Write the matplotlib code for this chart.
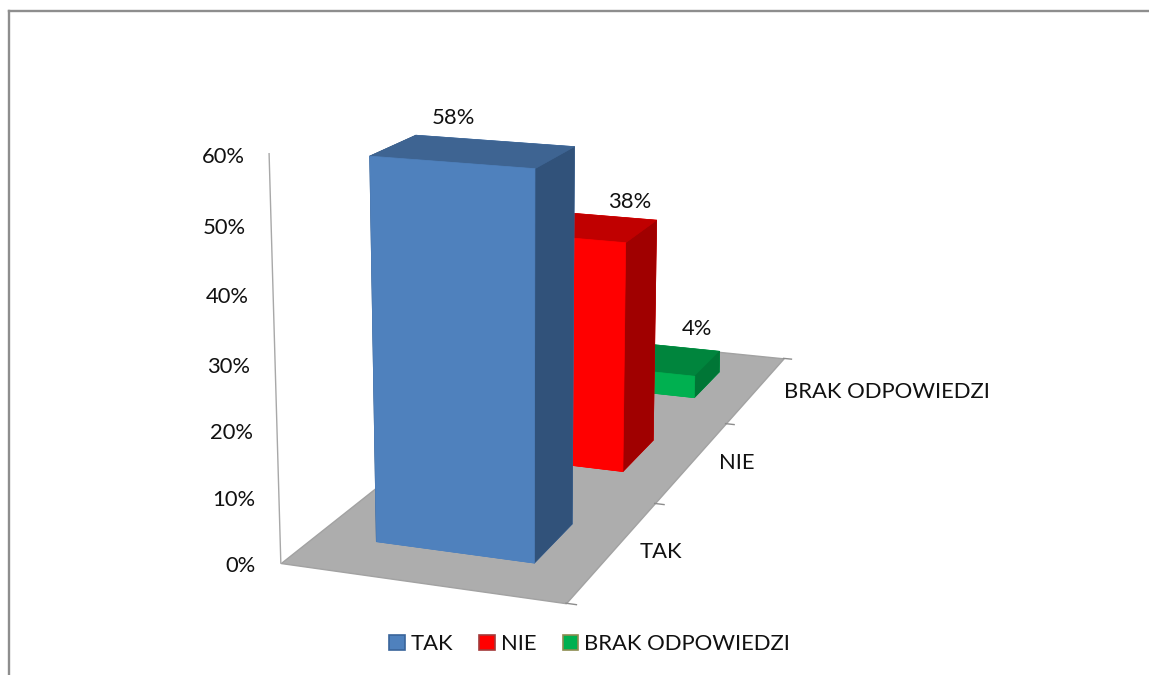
import numpy as np
import matplotlib
matplotlib.use('Agg')
import matplotlib.pyplot as plt
from matplotlib.lines import Line2D
from matplotlib.patches import Patch
from mpl_toolkits.mplot3d.art3d import Poly3DCollection

W = 1149
H = 675
plt.rcParams['font.family'] = ['Lato', 'DejaVu Sans']

categories = ['TAK', 'NIE', 'BRAK ODPOWIEDZI']
values = [58, 38, 4]
value_labels = ['58%', '38%', '4%']
z_tick_labels = ['0%', '10%', '20%', '30%', '40%', '50%', '60%']

# face colours per bar: front, side, top
front = ['#4F81BD', '#FF0000', '#00B050']
side = ['#31527A', '#A00000', '#007636']
top = ['#3E6492', '#C00000', '#00853D']
swatch_edge = ['#3A659B', '#A33A3A', '#8C8C50']

# camera found by fitting to the corners of the reference
elev, azim, roll, focal = 14.3779, -70.9579, -0.3054, np.exp(-0.7453)
depth, height = 2.8926, 1.3810
x0, x1, y0, y1 = 0.2187, 0.7900, 0.2954, 0.6950
s, tx, ty = 4686.0, 567.5, 272.4

fig = plt.figure(figsize=(W / 100, H / 100), dpi=100)
ax = fig.add_subplot(projection='3d', computed_zorder=False)
ax.set_xlim(0, 1, view_margin=0)
ax.set_ylim(0, 3, view_margin=0)
ax.set_zlim(0, 60, view_margin=0)
ax.view_init(elev=elev, azim=azim, roll=roll)
ax.set_proj_type('persp', focal_length=float(focal))
ax.set_box_aspect((1, depth, height))
ax.set_axis_off()
ax.patch.set_visible(False)

# place the axes so the projected scene lands on the right pixels
vx0, vx1 = ax.viewLim.intervalx
vy0, vy1 = ax.viewLim.intervaly
side_px = s * (vx1 - vx0)
ax.set_position([(tx + s * vx0) / W, (H - (ty - s * vy0)) / H, side_px / W, side_px / H])

# floor
floor = Poly3DCollection([[(0, 0, 0), (1, 0, 0), (1, 3, 0), (0, 3, 0)]],
                         facecolor='#ADADAD', edgecolor='#A2A2A2', linewidth=1, zorder=1)
ax.add_collection3d(floor)

# axis line and depth ticks
ax.plot([0, 0], [0, 0], [0, 60], color='#A8A8A8', lw=1, zorder=1.5)
for i in range(4):
    ax.plot([1, 1.035], [i, i], [0, 0], color='#8C8C8C', lw=1, zorder=1.5)

# bars, back to front
for i in [2, 1, 0]:
    # bottom, top, -y, +y, -x, +x
    cols = [front[i], top[i], front[i], front[i], side[i], side[i]]
    ax.bar3d(x0, i + y0, 0, x1 - x0, y1 - y0, values[i], color=cols, edgecolor=cols,
             linewidth=0.5, shade=False, zorder=5 - i)

FS = 15.8


def label(x, y, t, ha='center'):
    fig.text(x / W, 1 - y / H, t, ha=ha, va='center', fontsize=FS, color='#111111')


label(453, 118, value_labels[0])
label(630, 202, value_labels[1])
label(697, 329, value_labels[2])

z_right = [256, 255, 253, 250, 249, 246, 245]
z_y = [566, 500, 433, 367, 297, 228, 157]
for t, xr, yy in zip(z_tick_labels, z_right, z_y):
    label(xr, yy, t, ha='right')

label(661, 552, categories[0])
label(737, 463, categories[1])
label(887, 392, categories[2])

handles = [Patch(facecolor=front[i], edgecolor=swatch_edge[i], linewidth=1.2) for i in range(3)]
fig.legend(handles, categories, loc='center', bbox_to_anchor=(589.5 / W, 1 - 644 / H), ncols=3,
           frameon=False, fontsize=FS, handlelength=0.7, handleheight=0.7, handletextpad=0.27,
           columnspacing=1.2, borderpad=0, labelcolor='#111111')

# chart frame, cut off at the right and bottom of the image
fig.add_artist(Line2D([9 / W, 1], [1 - 10.5 / H, 1 - 10.5 / H], color='#8E8E8E', lw=1.7))
fig.add_artist(Line2D([9 / W, 9 / W], [0, 1 - 10.5 / H], color='#8E8E8E', lw=1.7))

fig.savefig('out.png', dpi=100)
